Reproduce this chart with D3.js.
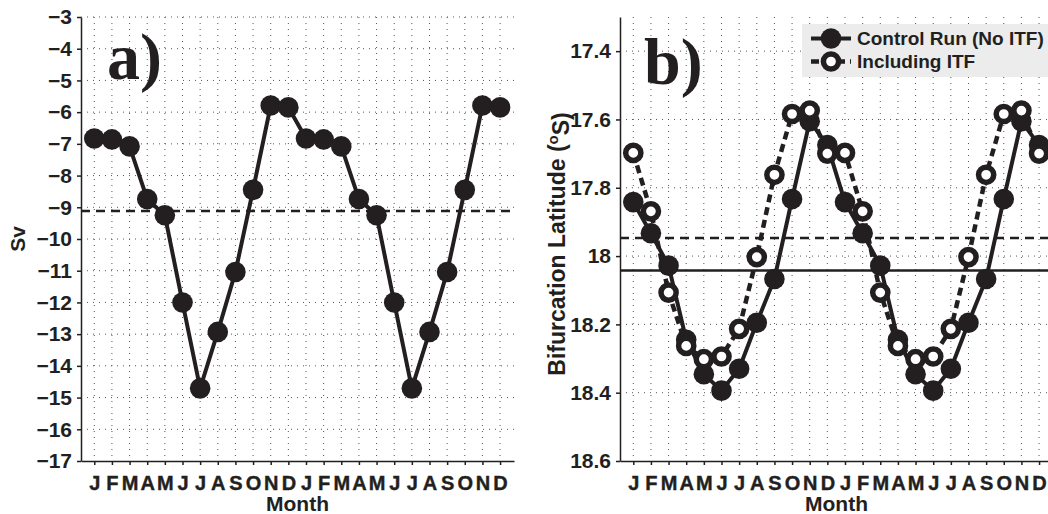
<!DOCTYPE html>
<html lang="en">
<head>
<meta charset="utf-8">
<title>Transport and bifurcation latitude</title>
<script src="https://cdn.jsdelivr.net/npm/d3@7"></script>
<style>
  body { margin: 0; background: #fff; }
  svg { display: block; font-family: "Liberation Sans", Arial, sans-serif; }
  .axis path, .axis line { stroke: #231f20; stroke-width: 1.5; }
  .axis text { fill: #231f20; font-weight: bold; }
  .axis.x text { stroke: #231f20; stroke-width: 0.4; }
  .grid line { stroke: #555; stroke-width: 1; stroke-dasharray: 1 5; }
</style>
</head>
<body>
<svg width="1048" height="514"></svg>
<script>
// one year of values, the figure plots it twice
var months = ["J", "F", "M", "A", "M", "J", "J", "A", "S", "O", "N", "D"];
var transport = [-6.83, -6.86, -7.08, -8.74, -9.25, -12.0, -14.71, -12.93, -11.04, -8.45, -5.79, -5.85];
var latControl = [17.842, 17.933, 18.028, 18.245, 18.346, 18.394, 18.330, 18.195, 18.067, 17.833, 17.605, 17.675];
var latITF = [17.698, 17.869, 18.107, 18.263, 18.302, 18.294, 18.213, 18.003, 17.762, 17.584, 17.574, 17.700];
var meanTransport = -9.12, meanControl = 18.042, meanITF = 17.947;
var ticksA = [-3, -4, -5, -6, -7, -8, -9, -10, -11, -12, -13, -14, -15, -16, -17];
var ticksB = [17.4, 17.6, 17.8, 18, 18.2, 18.4, 18.6];

var ink = "#231f20";
var svg = d3.select("svg");
var plotTop = 17, plotBottom = 461;
var idx = d3.range(1, 25);
var monthLabels = months.concat(months);

function panel(left, right, yDomain, ticks, fmt) {
  var x = d3.scaleLinear().domain([0.247, 24.79]).range([left, right]);
  var y = d3.scaleLinear().domain(yDomain).range([plotTop, plotBottom]);
  var g = svg.append("g");

  // dotted grid
  var grid = g.append("g").attr("class", "grid");
  grid.selectAll(".v").data(idx).enter().append("line")
      .attr("x1", function(d) { return x(d); }).attr("x2", function(d) { return x(d); })
      .attr("y1", plotTop).attr("y2", plotBottom);
  grid.selectAll(".h").data(ticks.filter(function(t) { return y(t) < plotBottom - 1; })).enter().append("line")
      .attr("x1", left).attr("x2", right)
      .attr("y1", function(d) { return y(d); }).attr("y2", function(d) { return y(d); });

  g.append("g").attr("class", "axis x")
      .attr("transform", "translate(0," + plotBottom + ")")
      .call(d3.axisBottom(x).tickValues(idx).tickSize(4).tickSizeOuter(0).tickPadding(11)
        .tickFormat(function(d) { return monthLabels[d - 1]; }))
      .selectAll("text").style("font-size", "20px");

  g.append("g").attr("class", "axis")
      .attr("transform", "translate(" + left + ",0)")
      .call(d3.axisLeft(y).tickValues(ticks).tickSize(4).tickSizeOuter(0).tickPadding(5).tickFormat(fmt))
      .selectAll("text").style("font-size", "21px");

  g.append("text")
      .attr("x", (left + right) / 2).attr("y", 511)
      .attr("text-anchor", "middle")
      .style("font-size", "21px").style("font-weight", "bold").attr("fill", ink)
      .text("Month");

  return {g: g, x: x, y: y};
}

function hline(p, v, dash) {
  p.g.append("line")
      .attr("x1", p.x.range()[0]).attr("x2", p.x.range()[1])
      .attr("y1", p.y(v)).attr("y2", p.y(v))
      .attr("stroke", ink).attr("stroke-width", 2.5)
      .attr("stroke-dasharray", dash);
}

function series(p, vals, open) {
  var data = vals.concat(vals);
  var line = d3.line().x(function(d, i) { return p.x(i + 1); }).y(function(d) { return p.y(d); });
  p.g.append("path").datum(data)
      .attr("d", line).attr("fill", "none")
      .attr("stroke", ink).attr("stroke-width", open ? 4.5 : 4)
      .attr("stroke-dasharray", open ? "8 5" : null);
  p.g.selectAll(null).data(data).enter().append("circle")
      .attr("cx", function(d, i) { return p.x(i + 1); })
      .attr("cy", function(d) { return p.y(d); })
      .attr("r", open ? 7.6 : 10.3)
      .attr("fill", open ? "#fff" : ink)
      .attr("stroke", open ? ink : "none")
      .attr("stroke-width", 5.5);
}

// a) transport
var pa = panel(81, 514, [-3, -17], ticksA, function(d) { return d3.format("d")(d); });
hline(pa, meanTransport, "9 6");
series(pa, transport, false);

svg.append("text")
    .attr("transform", "translate(25,239) rotate(-90)")
    .attr("text-anchor", "middle")
    .style("font-size", "21px").style("font-weight", "bold").attr("fill", ink)
    .text("Sv");

svg.append("text").attr("x", 107).attr("y", 79)
    .style("font-family", "'Liberation Serif', 'Times New Roman', serif")
    .style("font-size", "66px").style("font-weight", "bold").attr("fill", ink)
    .text("a)");

// b) bifurcation latitude
var pb = panel(620, 1053, [17.3, 18.6], ticksB, function(d) { return String(d); });
hline(pb, meanITF, "9 6");
hline(pb, meanControl, null);
series(pb, latControl, false);
series(pb, latITF, true);

var lab = svg.append("text")
    .attr("transform", "translate(565,244) rotate(-90)")
    .attr("text-anchor", "middle")
    .style("font-size", "23px").style("font-weight", "bold").attr("fill", ink);
lab.append("tspan").text("Bifurcation Latitude (");
lab.append("tspan").attr("dy", "-0.45em").style("font-size", "15px").text("o");
lab.append("tspan").attr("dy", "0.45em").text("S)");

svg.append("text").attr("x", 644).attr("y", 84)
    .style("font-family", "'Liberation Serif', 'Times New Roman', serif")
    .style("font-size", "66px").style("font-weight", "bold").attr("fill", ink)
    .text("b)");

// legend
var lg = svg.append("g");
lg.append("rect").attr("x", 802).attr("y", 24).attr("width", 246).attr("height", 53).attr("fill", "#ebeceb");
var entries = [{label: "Control Run (No ITF)", open: false, y: 38.5}, {label: "Including ITF", open: true, y: 61.5}];
entries.forEach(function(e) {
  lg.append("line").attr("x1", 811).attr("x2", 851).attr("y1", e.y).attr("y2", e.y)
      .attr("stroke", ink).attr("stroke-width", e.open ? 4.5 : 4)
      .attr("stroke-dasharray", e.open ? "8 5" : null);
  lg.append("circle").attr("cx", 831).attr("cy", e.y)
      .attr("r", e.open ? 7.6 : 10.3)
      .attr("fill", e.open ? "#fff" : ink)
      .attr("stroke", e.open ? ink : "none").attr("stroke-width", 5.5);
  lg.append("text").attr("x", 857).attr("y", e.y + 6.8)
      .style("font-size", "19px").style("font-weight", "bold").attr("fill", ink)
      .text(e.label);
});
</script>
</body>
</html>
